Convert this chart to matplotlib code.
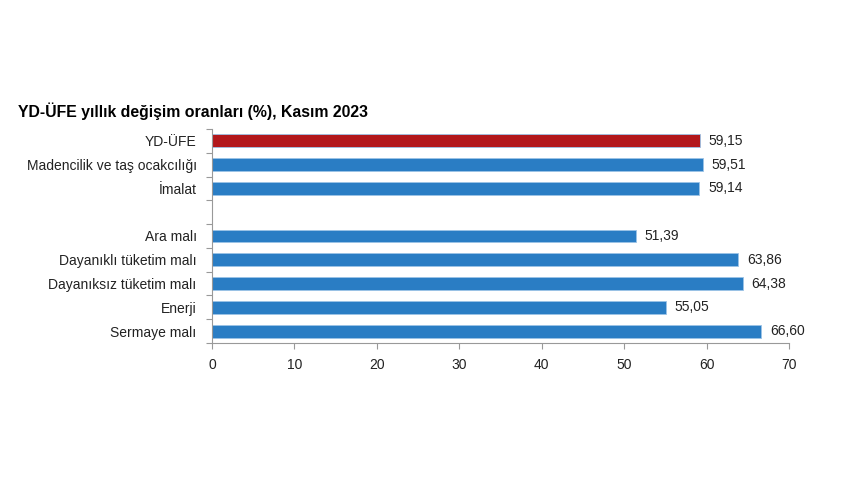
import numpy as np
import matplotlib

matplotlib.use("Agg")
import matplotlib.pyplot as plt

plt.rcParams["font.family"] = ["Liberation Sans", "DejaVu Sans"]

# data (blank row separates the groups)
categories = ["YD-ÜFE", "Madencilik ve taş ocakcılığı", "İmalat", "",
              "Ara malı", "Dayanıklı tüketim malı", "Dayanıksız tüketim malı",
              "Enerji", "Sermaye malı"]
values = [59.15, 59.51, 59.14, np.nan, 51.39, 63.86, 64.38, 55.05, 66.60]
bar_colors = ["#B2171B"] + ["#2A7DC4"] * 8
x_ticks = [0, 10, 20, 30, 40, 50, 60, 70]

fig = plt.figure(figsize=(8.5, 4.78), dpi=100)
ax = fig.add_axes([0.2494, 0.2824, 0.6788, 0.4478])

pos = np.arange(len(categories))
ax.barh(pos, values, height=0.54, color=bar_colors,
        edgecolor="#9CC3E6", linewidth=0.6)

for p, v in zip(pos, values):
    if np.isnan(v):
        continue
    ax.text(v + 1.1, p, f"{v:.2f}".replace(".", ","), va="center",
            ha="left", fontsize=10, color="#222222")

ax.set_ylim(len(categories) - 0.5, -0.5)
ax.set_xlim(0, 70)
ax.set_xticks(x_ticks)
ax.set_xticklabels([str(t) for t in x_ticks], fontsize=10, color="#222222")

ax.set_yticks(pos)
ax.set_yticklabels(categories, fontsize=10, color="#222222")
ax.set_yticks(np.arange(len(categories) + 1) - 0.5, minor=True)
ax.tick_params(axis="y", which="major", length=0, pad=11)
ax.tick_params(axis="y", which="minor", length=4, color="#999999", width=0.8)
ax.tick_params(axis="x", length=4, color="#999999", width=0.8, pad=7)

for s in ["top", "right"]:
    ax.spines[s].set_visible(False)
for s in ["left", "bottom"]:
    ax.spines[s].set_color("#999999")
    ax.spines[s].set_linewidth(0.8)

fig.text(18 / 850, 1 - 111 / 478, "YD-ÜFE yıllık değişim oranları (%), Kasım 2023",
         fontsize=11.4, fontweight="bold", va="center", ha="left")

fig.savefig("out.png", dpi=100)
